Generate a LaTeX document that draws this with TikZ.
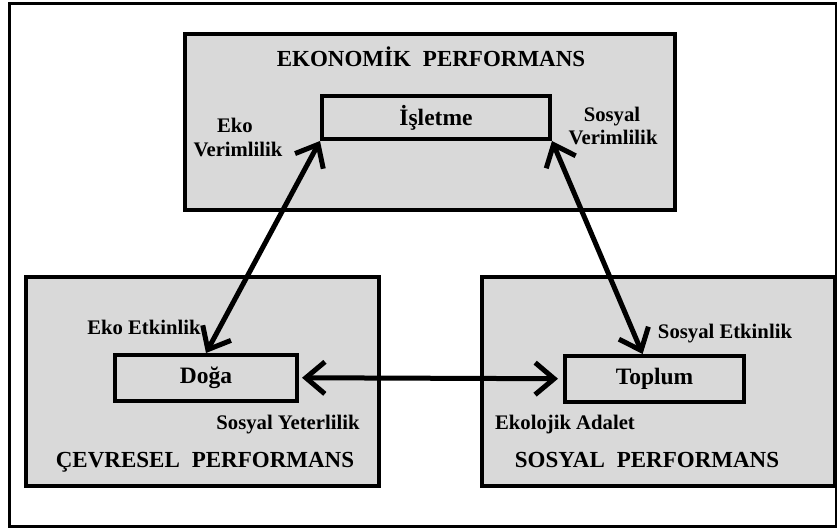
\documentclass[tikz,border=0pt]{standalone}
\usepackage{fontspec}
\setmainfont{Liberation Serif}
\usetikzlibrary{arrows.meta,calc}

\begin{document}
\begin{tikzpicture}[x=1pt,y=-1pt,
  panel/.style={draw=black,fill=boxgray,line width=4pt,rectangle,inner sep=0pt},
  core/.style={draw=black,fill=boxgray,line width=4pt,rectangle,inner sep=0pt,
    font=\fontsize{23.5}{26}\selectfont\bfseries},
  heading/.style={anchor=base,inner sep=0pt,font=\fontsize{23}{26}\selectfont\bfseries},
  tag/.style={anchor=base,inner sep=0pt,font=\fontsize{20.7}{24}\selectfont\bfseries},
  barb/.tip={Straight Barb[length=19pt,width=32pt,line width=5pt]},
  link/.style={line width=5pt,barb-barb}
]
\definecolor{boxgray}{HTML}{D9D9D9}
\useasboundingbox (0,0) rectangle (837,529);

% outer frame
\draw[line width=3pt] (9.5,3.5) rectangle (836,526);

% three performance panels
\node[panel,minimum width=490pt,minimum height=176pt] (eco) at (430,122) {};
\node[panel,minimum width=353pt,minimum height=209pt] (env) at (202.5,381.5) {};
\node[panel,minimum width=353pt,minimum height=208.5pt] (soc) at (658.5,381.25) {};

% actors
\node[core,minimum width=228pt,minimum height=43pt] (firm) at (436,117.5) {İşletme};
\node[core,minimum width=182pt,minimum height=45.5pt] (nature) at (206,377.75) {Doğa};
\node[core,minimum width=179pt,minimum height=45.5pt] (society) at (654.5,378.75) {Toplum};

% panel headings
\node[heading] (ecoT) at (431,67) {EKONOMİK\hspace{12pt}PERFORMANS};
\node[heading] (envT) at (205,467) {ÇEVRESEL\hspace{12pt}PERFORMANS};
\node[heading] (socT) at (647,467) {SOSYAL\hspace{12pt}PERFORMANS};

% relation labels
\node[tag] (l1a) at (235,132.5) {Eko};
\node[tag] (l1b) at (238,156.5) {Verimlilik};
\node[tag] (l2a) at (612,121.5) {Sosyal};
\node[tag] (l2b) at (613,144.5) {Verimlilik};
\node[tag] (l3) at (144,334.5) {Eko Etkinlik};
\node[tag] (l4) at (288,429.5) {Sosyal Yeterlilik};
\node[tag] (l5) at (725,338.5) {Sosyal Etkinlik};
\node[tag] (l6) at (565,429.5) {Ekolojik Adalet};

% connectors
\coordinate (socTop) at ($(society.north west)!0.435!(society.north east)$);
\draw[link] (firm.south west) -- (nature.north);
\draw[link] (firm.south east) -- (socTop);
\draw[link,shorten <=3pt,shorten >=5pt] (nature.east) -- (society.west);
\end{tikzpicture}
\end{document}
